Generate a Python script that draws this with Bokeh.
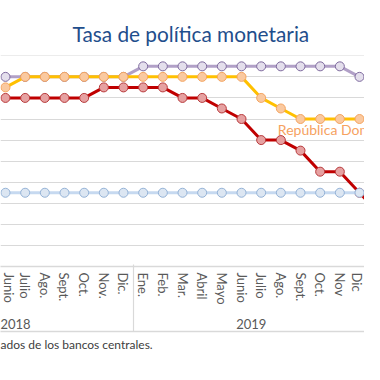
from bokeh.plotting import figure
from bokeh.models import Range1d, FixedTicker, LinearAxis, Grid, Title
from bokeh.core.properties import value
from bokeh.embed import file_html
from bokeh.resources import INLINE

# ---------------- data ----------------
years = ["2018", "2019"]
months_2018 = ["Ene.", "Feb.", "Mar.", "Abril", "Mayo", "Junio", "Julio", "Ago.", "Sept.", "Oct.", "Nov.", "Dic."]
months_2019 = ["Ene.", "Feb.", "Mar.", "Abril", "Mayo", "Junio", "Julio", "Ago.", "Sept.", "Oct.", "Nov", "Dic"]
months_2020 = ["Ene."]
first_month = 5  # series start at Junio 2018 (month index counted from Ene. 2018)

# policy rates (%), Junio 2018 ... Ene. 2020
honduras = [5.5, 5.5, 5.5, 5.5, 5.5, 5.5, 5.5,
            5.75, 5.75, 5.75, 5.75, 5.75, 5.75, 5.75, 5.75, 5.75, 5.75, 5.75,
            5.5, 5.5]
rep_dominicana = [5.25, 5.5, 5.5, 5.5, 5.5, 5.5, 5.5,
                  5.5, 5.5, 5.5, 5.5, 5.5, 5.5, 5.0, 4.75, 4.5, 4.5, 4.5,
                  4.5, 4.5]
costa_rica = [5.0, 5.0, 5.0, 5.0, 5.0, 5.25, 5.25,
              5.25, 5.25, 5.0, 5.0, 4.75, 4.5, 4.0, 4.0, 3.75, 3.25, 3.25,
              2.75, 2.25]
guatemala = [2.75, 2.75, 2.75, 2.75, 2.75, 2.75, 2.75,
             2.75, 2.75, 2.75, 2.75, 2.75, 2.75, 2.75, 2.75, 2.75, 2.75, 2.75,
             2.75, 2.75]
y_grid_values = [1.0, 1.5, 2.0, 2.5, 3.0, 3.5, 4.0, 4.5, 5.0, 5.5, 6.0]
label_text = "República Dominicana"
title_text = "Tasa de política monetaria"
footer_text = "ados de los bancos centrales."

# ---------------- derived ----------------
all_months = months_2018 + months_2019 + months_2020
month_idx = list(range(len(all_months)))
xs = month_idx[first_month:first_month + len(honduras)]
year_centers = [(12 * k) + 5.5 for k in range(len(years))]
year_bounds = [12 * k - 0.5 for k in range(1, len(years) + 1)]

GRID = "#D9D9D9"
FONT = "Lato"
TXT = "#595959"

p = figure(width=364, height=364, output_backend="svg", toolbar_location=None,
           x_range=Range1d(4.746, 23.254), y_range=Range1d(1.0, 6.007),
           x_axis_location=None, y_axis_location=None,
           min_border_left=0, min_border_right=0, min_border_top=55, min_border_bottom=98)
p.outline_line_color = None
p.background_fill_color = "white"
p.border_fill_color = "white"
for g in list(p.xgrid) + list(p.ygrid):
    g.visible = False
p.add_layout(Grid(dimension=1, ticker=FixedTicker(ticks=y_grid_values),
                  grid_line_color=GRID, grid_line_width=1.2))

# title
p.title.text = title_text
p.title.align = "left"
p.title.offset = 72
p.title.text_font = FONT
p.title.text_font_style = "normal"
p.title.text_font_size = "20.8px"
p.title.text_color = "#1F4E8C"
p.title.standoff = 20


def blank_axis(**kw):
    base = dict(ticker=FixedTicker(ticks=[]), major_tick_out=0, major_tick_in=0,
                minor_tick_out=0, minor_tick_in=0, major_label_standoff=0,
                axis_line_color=None, major_tick_line_color=None, minor_tick_line_color=None)
    base.update(kw)
    return LinearAxis(**base)


# month axis
month_axis = LinearAxis(
    ticker=FixedTicker(ticks=month_idx),
    major_label_overrides={i: m for i, m in enumerate(all_months)},
    major_label_orientation="vertical",
    major_label_standoff=6,
    major_label_text_font=FONT, major_label_text_font_size="13px",
    major_label_text_color=TXT,
    major_tick_out=0, major_tick_in=0, minor_tick_out=0, minor_tick_in=0,
    major_tick_line_color=None, minor_tick_line_color=None,
    axis_line_color=GRID, axis_line_width=1.5)
p.add_layout(month_axis, "below")

# year axis
year_axis = LinearAxis(
    ticker=FixedTicker(ticks=year_centers),
    major_label_overrides={c: y for c, y in zip(year_centers, years)},
    major_label_standoff=11,
    major_label_text_font=FONT, major_label_text_font_size="13px",
    major_label_text_color=TXT,
    major_tick_out=0, major_tick_in=0, minor_tick_out=0, minor_tick_in=0,
    major_tick_line_color=None, minor_tick_line_color=None,
    axis_line_color=None)
p.add_layout(year_axis, "below")

# spacer, then year separators drawn as inward ticks
p.add_layout(blank_axis(major_tick_out=3), "below")
sep_axis = blank_axis(ticker=FixedTicker(ticks=year_bounds), major_tick_in=67,
                      major_tick_line_color=GRID, major_tick_line_width=1.2,
                      major_label_overrides={b: "" for b in year_bounds})
p.add_layout(sep_axis, "below")
p.add_layout(blank_axis(major_tick_out=7), "below")

# bottom frame line
bottom_axis = blank_axis(axis_line_color=GRID, axis_line_width=1.5)
p.add_layout(bottom_axis, "below")

# source note
p.add_layout(Title(text=footer_text, align="left", offset=0, standoff=7,
                   text_font=FONT, text_font_style="normal", text_font_size="12px",
                   text_color="#404040"), "below")

# series
series = [
    (costa_rica, "#C00000", "#E6A1A1", "#B8393B"),
    (guatemala, "#C6D9F0", "#DCE6F2", "#95B3D7"),
    (honduras, "#B1A0C7", "#E4DFEC", "#7E6A9E"),
    (rep_dominicana, "#FFC000", "#FAC9A0", "#F4A460"),
]
for vals, lc, fc, oc in series:
    p.line(xs, vals, line_color=lc, line_width=3)
    p.scatter(xs, vals, size=9, fill_color=fc, line_color=oc, line_width=1)

# series label
lab_i = all_months.index("Ago.", 12)
p.text(x=[lab_i], y=[rep_dominicana[lab_i - first_month + 1]], text=[label_text],
       x_offset=-3, y_offset=10, text_align="left", text_baseline="middle",
       text_font=value(FONT), text_font_size="14px", text_color="#F6A25F")

open("out.html", "w").write(file_html(p, INLINE))
